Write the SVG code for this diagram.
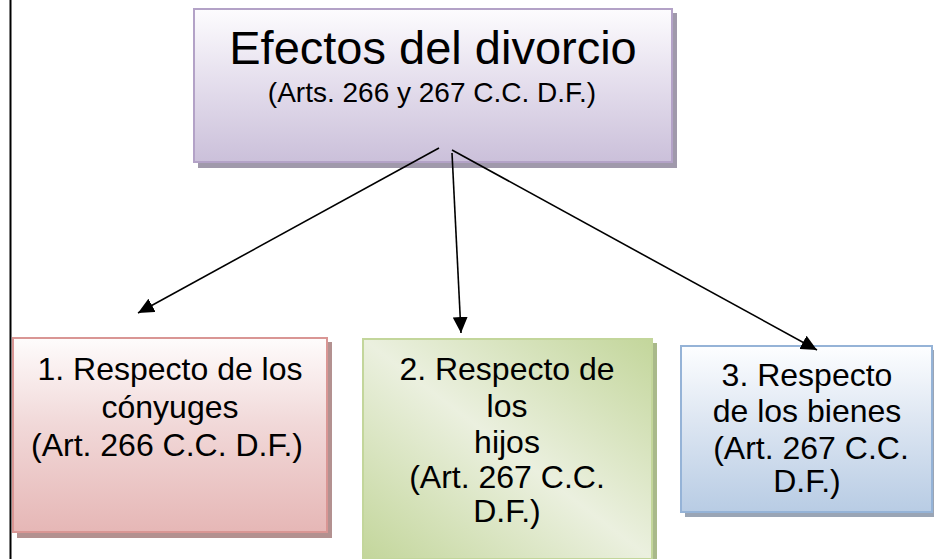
<svg xmlns="http://www.w3.org/2000/svg" width="934" height="559" viewBox="0 0 934 559">
<defs>
<style>
.t{font-family:"Liberation Sans",Arial,sans-serif;fill:#000;text-anchor:middle}
.conn{stroke:#000;stroke-width:1.6;fill:none;marker-end:url(#ah)}
.sh{stroke:none}
</style>
<linearGradient id="gPurple" x1="0" y1="0" x2="0" y2="1">
<stop offset="0" stop-color="#fdfcfe"/><stop offset="0.45" stop-color="#e6e0ee"/><stop offset="1" stop-color="#cbc0da"/>
</linearGradient>
<linearGradient id="gRed" x1="0" y1="0" x2="0" y2="1">
<stop offset="0" stop-color="#fefcfc"/><stop offset="0.45" stop-color="#f1d8d8"/><stop offset="1" stop-color="#e6b7b6"/>
</linearGradient>
<linearGradient id="gGreen" x1="1" y1="0" x2="0" y2="1">
<stop offset="0" stop-color="#c3d69b"/><stop offset="0.5" stop-color="#ebf0df"/><stop offset="1" stop-color="#c3d69b"/>
</linearGradient>
<linearGradient id="gBlue" x1="0" y1="0" x2="0" y2="1">
<stop offset="0" stop-color="#fdfeff"/><stop offset="0.45" stop-color="#dde6f2"/><stop offset="1" stop-color="#b8cce4"/>
</linearGradient>
<marker id="ah" markerUnits="userSpaceOnUse" markerWidth="17" markerHeight="15" refX="16" refY="7.5" orient="auto">
<path d="M0,0 L16,7.5 L0,15 z" fill="#000"/>
</marker>
</defs>
<rect width="934" height="559" fill="#fff"/>
<line x1="10.5" y1="0" x2="10.5" y2="559" stroke="#000" stroke-width="2"/>

<g id="node-top">
<rect class="sh" x="198" y="13" width="479" height="155" fill="#a099ab"/>
<rect x="194" y="9" width="478" height="153" fill="url(#gPurple)" stroke="#b3a2c7" stroke-width="2"/>
<text class="t" x="433" y="64" font-size="47">Efectos del divorcio</text>
<text class="t" x="432" y="102" font-size="28">(Arts. 266 y 267 C.C. D.F.)</text>
</g>

<g id="node-1">
<rect class="sh" x="17" y="342" width="315" height="196" fill="#b39190"/>
<rect x="13" y="338" width="314" height="194" fill="url(#gRed)" stroke="#d99694" stroke-width="2"/>
<text class="t" font-size="32"><tspan x="170" y="380">1. Respecto de los</tspan><tspan x="170" y="418">cónyuges</tspan><tspan x="167" y="456">(Art. 266 C.C. D.F.)</tspan></text>
</g>

<g id="node-2">
<rect class="sh" x="367" y="343" width="290" height="220" fill="#a9b98a"/>
<rect x="363" y="339" width="289" height="220" fill="url(#gGreen)" stroke="#c3d69b" stroke-width="2"/>
<text class="t" font-size="32"><tspan x="507" y="380">2. Respecto de</tspan><tspan x="507" y="417">los</tspan><tspan x="507" y="453">hijos</tspan><tspan x="507" y="488">(Art. 267 C.C.</tspan><tspan x="507" y="522">D.F.)</tspan></text>
</g>

<g id="node-3">
<rect class="sh" x="685" y="350" width="252" height="167" fill="#9aa5b5"/>
<rect x="681" y="346" width="251" height="166" fill="url(#gBlue)" stroke="#95b3d7" stroke-width="2"/>
<text class="t" font-size="32"><tspan x="807" y="386">3. Respecto</tspan><tspan x="807" y="422">de los bienes</tspan><tspan x="811" y="459">(Art. 267 C.C.</tspan><tspan x="807" y="492">D.F.)</tspan></text>
</g>

<g id="connectors">
<line class="conn" x1="439" y1="148" x2="138" y2="313"/>
<line class="conn" x1="452" y1="153" x2="461" y2="333"/>
<line class="conn" x1="452" y1="150" x2="817" y2="350"/>
</g>
</svg>
